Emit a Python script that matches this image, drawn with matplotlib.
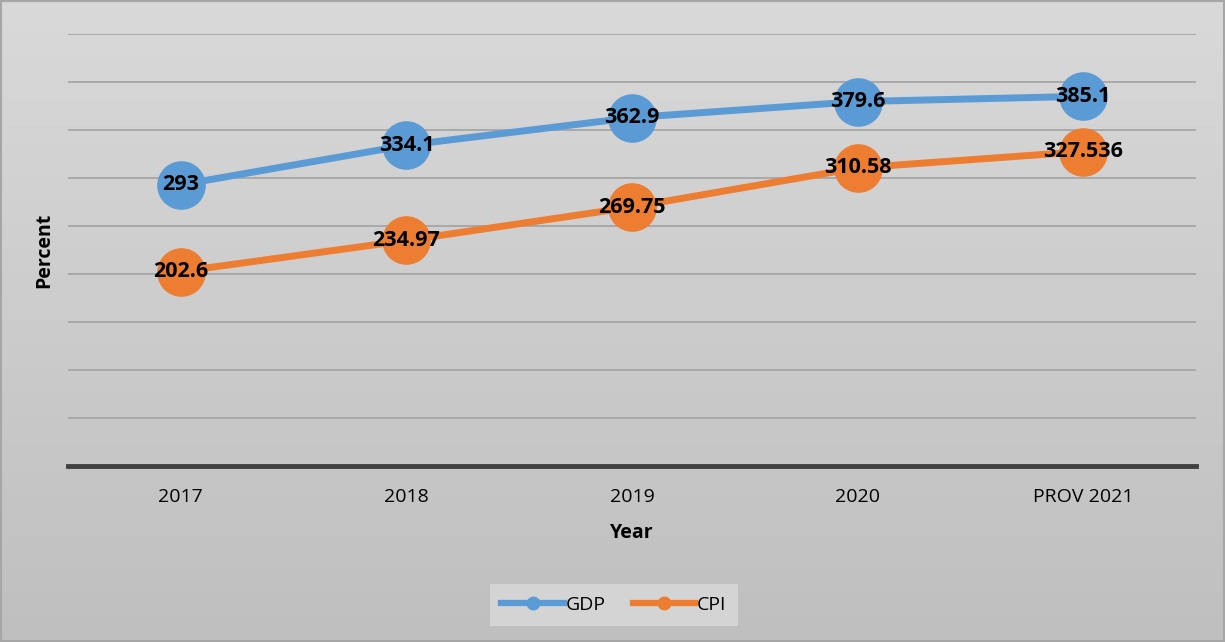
import numpy as np
import matplotlib.pyplot as plt
from matplotlib.colors import LinearSegmentedColormap

years = ['2017', '2018', '2019', '2020', 'PROV 2021']
gdp = [293, 334.1, 362.9, 379.6, 385.1]
cpi = [202.6, 234.97, 269.75, 310.58, 327.536]
gdp_labels = ['293', '334.1', '362.9', '379.6', '385.1']
cpi_labels = ['202.6', '234.97', '269.75', '310.58', '327.536']

plt.rcParams['font.family'] = ['Open Sans', 'DejaVu Sans']

fig = plt.figure(figsize=(12.25, 6.42), dpi=100)

# gradient background, lighter at top
bg = fig.add_axes([0, 0, 1, 1], zorder=-10)
grad = np.linspace(0, 1, 256).reshape(-1, 1)
cmap = LinearSegmentedColormap.from_list('bg', ['#bfbfbf', '#d9d9d9'])
bg.imshow(grad, aspect='auto', cmap=cmap, extent=[0, 1, 0, 1])
bg.set_xlim(0, 1)
bg.set_ylim(1, 0)
bg.add_patch(plt.Rectangle((0.001, 0.002), 0.998, 0.996, fill=False, ec='#a6a6a6', lw=1.5))
bg.axis('off')

ax = fig.add_axes([68/1225, 1-466/642, 1128/1225, 432/642])
ax.patch.set_alpha(0)
x = np.arange(len(years))

ax.plot(x, gdp, color='#5b9bd5', lw=5, marker='o', ms=34, label='GDP', zorder=3)
ax.plot(x, cpi, color='#ed7d31', lw=5, marker='o', ms=34, label='CPI', zorder=3)

for xi, v, t in zip(x, gdp, gdp_labels):
    ax.text(xi, v, t, ha='center', va='center', fontsize=15.5, fontweight='bold', zorder=5)
for xi, v, t in zip(x, cpi, cpi_labels):
    ax.text(xi, v, t, ha='center', va='center', fontsize=15.5, fontweight='bold', zorder=5)

ax.set_xlim(-0.5, 4.5)
ax.set_ylim(0, 450)
ax.set_yticks(np.arange(50, 451, 50))
ax.yaxis.grid(True, color='#a6a6a6', lw=1.3)
ax.set_axisbelow(True)
ax.tick_params(axis='y', left=False, labelleft=False)
ax.tick_params(axis='x', length=0, labelsize=14, pad=16)
ax.set_xticks(x)
ax.set_xticklabels(years)
for s in ['top', 'right', 'left']:
    ax.spines[s].set_visible(False)
ax.spines['bottom'].set_color('#404040')
ax.spines['bottom'].set_linewidth(3.5)

ax.set_xlabel('Year', fontsize=14, fontweight='bold', labelpad=12)
ax.set_ylabel('Percent', fontsize=14, fontweight='bold', labelpad=10)

h1, = ax.plot([], [], color='#5b9bd5', lw=4.5, marker='o', ms=9)
h2, = ax.plot([], [], color='#ed7d31', lw=4.5, marker='o', ms=9)
leg = fig.legend([h1, h2], ['GDP', 'CPI'], loc='center', bbox_to_anchor=(614/1225, 1-605/642),
                 ncol=2, frameon=True, fancybox=False, fontsize=14, handlelength=3.2,
                 handletextpad=0.1, columnspacing=1.4, borderpad=0.6)
leg.get_frame().set_facecolor('#d4d4d4')
leg.get_frame().set_edgecolor('none')
leg.get_frame().set_alpha(1)

fig.savefig('out.png', dpi=100)
